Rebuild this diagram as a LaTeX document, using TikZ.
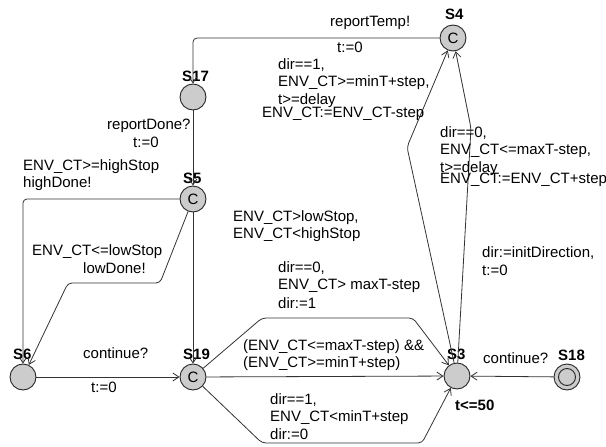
\documentclass[tikz,border=0pt]{standalone}
\usepackage{fontspec}
\setmainfont{Liberation Sans}
\usetikzlibrary{arrows.meta}

\begin{document}
\begin{tikzpicture}[x=1pt,y=-1pt]
        \tikzset{loc/.style={circle,draw=black!85,fill=black!20,minimum size=26pt,inner sep=0pt,line width=0.9pt},
          committed/.style={loc,font=\fontsize{15}{15}\selectfont},
          locname/.style={anchor=west,inner sep=0pt,font=\bfseries\fontsize{15}{17.5}\selectfont},
          lbl/.style={anchor=west,align=left,inner sep=0pt,font=\fontsize{15}{17.5}\selectfont},
          trans/.style={draw=black!80,line width=0.8pt,rounded corners=4pt,
            -{Straight Barb[length=6pt,width=8pt,line width=0.8pt]}}}
        \useasboundingbox (0,0) rectangle (606,447);
        % locations
        \node[committed] (S4) at (453,38) {C};
        \node[loc] (S17) at (193,97) {};
        \node[committed] (S5) at (193,199) {C};
        \node[loc] (S6) at (23,377) {};
        \node[committed] (S19) at (193,377) {C};
        \node[loc] (S3) at (457,376) {};
        \node[loc] (S18) at (567,377) {};
        \draw[black!85,line width=0.9pt] (S18.center) circle[radius=8.5pt];
        \node[locname] (nS4) at (445,14) {S4};
        \node[locname] (nS17) at (182,76) {S17};
        \node[locname] (nS5) at (183,178) {S5};
        \node[locname] (nS6) at (13,354) {S6};
        \node[locname] (nS19) at (183,354) {S19};
        \node[locname] (nS3) at (447,354) {S3};
        \node[locname] (nS18) at (558,355) {S18};
        \node[locname] (inv3) at (455,405) {t<=50};
        % transitions
        \draw[trans] (S4) -| (S17);
        \draw[trans] (S17) -- (S5);
        \draw[trans] (S5) -| (S6);
        \draw[trans] (S5) -- (160,283) -- (68,283) -- (S6);
        \draw[trans] (S5) -- (S19);
        \draw[trans] (S6) -- (S19);
        \draw[trans] (S19) -- (S3);
        \draw[trans] (S19) -- (262,318) -- (413,318) -- (S3);
        \draw[trans] (S19) -- (262,443) -- (422,443) -- (S3);
        \draw[trans] (S3) -- (407,147) -- (S4);
        \draw[trans] (S3) -- (471,128) -- (S4);
        \draw[trans] (S18) -- (S3);
        % labels
        \node[lbl] (sync43) at (330,23) {reportTemp!};
        \node[lbl] (upd43) at (337,47) {t:=0};
        \node[lbl] (sync175) at (107,126) {reportDone?};
        \node[lbl] (upd175) at (133,142) {t:=0};
        \node[lbl] (grd56a) at (23,175) {ENV\_CT>=highStop\\highDone!};
        \node[lbl] (grd56b) at (32,259) {ENV\_CT<=lowStop\\\hspace*{51pt}lowDone!};
        \node[lbl] (grd519) at (233,226) {ENV\_CT>lowStop,\\ENV\_CT<highStop};
        \node[lbl] (sync619) at (83,353) {continue?};
        \node[lbl] (upd619) at (91,387) {t:=0};
        \node[lbl] (grd193a) at (278,277) {dir==0,\\ENV\_CT> maxT-step};
        \node[lbl] (upd193a) at (278,303) {dir:=1};
        \node[lbl] (grd193b) at (243,355) {(ENV\_CT<=maxT-step) \&\&\\(ENV\_CT>=minT+step)};
        \node[lbl] (grd193c) at (270,409) {dir==1,\\ENV\_CT<minT+step};
        \node[lbl] (upd193c) at (270,434) {dir:=0};
        \node[lbl] (grd34a) at (278,83) {dir==1,\\ENV\_CT>=minT+step,\\t>=delay};
        \node[lbl] (upd34a) at (262,114) {ENV\_CT:=ENV\_CT-step};
        \node[lbl] (grd34b) at (440,151) {dir==0,\\ENV\_CT<=maxT-step,\\t>=delay};
        \node[lbl] (upd34b) at (440,180) {ENV\_CT:=ENV\_CT+step};
        \node[lbl] (sync183) at (483,358) {continue?};
        \node[lbl] (upd183) at (482,261) {dir:=initDirection,\\t:=0};
\end{tikzpicture}
\end{document}
